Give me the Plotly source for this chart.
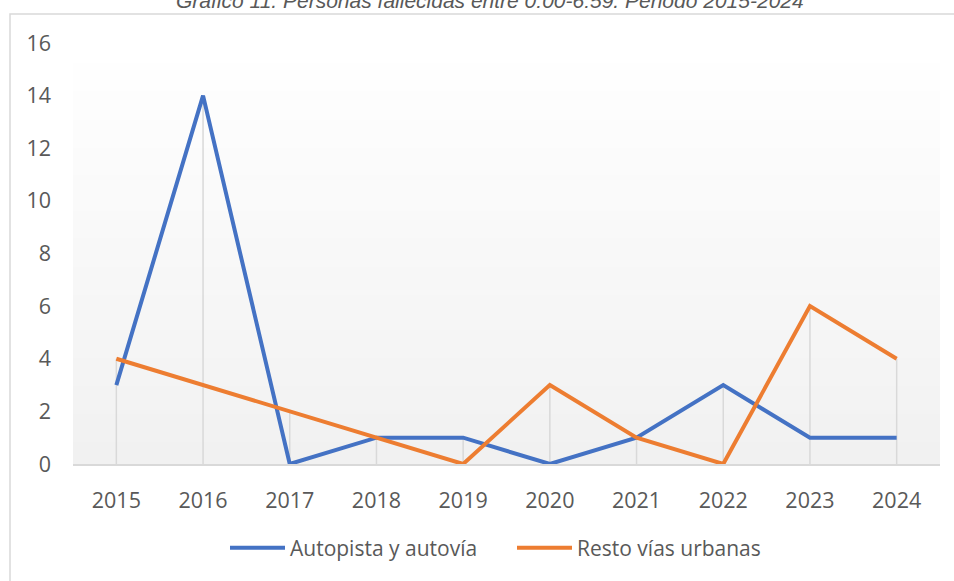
import plotly.graph_objects as go

years = ["2015", "2016", "2017", "2018", "2019", "2020", "2021", "2022", "2023", "2024"]
autopista = [3, 14, 0, 1, 1, 0, 1, 3, 1, 1]
resto = [4, 3, 2, 1, 0, 3, 1, 0, 6, 4]
y_ticks = [0, 2, 4, 6, 8, 10, 12, 14, 16]

L, R, T, B = 73, 940, 43, 464
PW, PH = R - L, B - T

def px(x):
    return (x - L) / PW

def py(y):
    return (B - y) / PH

fig = go.Figure()

# drop lines
dx, dy = [], []
for i, yr in enumerate(years):
    dx += [yr, yr, None]
    dy += [0, max(autopista[i], resto[i]), None]
fig.add_trace(go.Scatter(x=dx, y=dy, mode="lines", line=dict(color="#d9d9d9", width=1.5),
                         showlegend=False, hoverinfo="skip"))

fig.add_trace(go.Scatter(x=years, y=autopista, mode="lines", name="Autopista y autovía",
                         line=dict(color="#4472C4", width=4)))
fig.add_trace(go.Scatter(x=years, y=resto, mode="lines", name="Resto vías urbanas",
                         line=dict(color="#ED7D31", width=4)))

# gradient background
shapes = []
n = 60
for k in range(n):
    t = k / (n - 1)
    c = int(round(255 - (255 - 241) * t))
    shapes.append(dict(type="rect", xref="paper", yref="paper", x0=0, x1=1,
                       y0=1 - (k + 1) / n, y1=1 - k / n + 0.002,
                       fillcolor=f"rgb({c},{c},{c})", line=dict(width=0), layer="below"))
# outer border
shapes.append(dict(type="rect", xref="paper", yref="paper",
                   x0=px(10), x1=px(1000), y0=py(650), y1=py(14),
                   line=dict(color="#d9d9d9", width=1.5), fillcolor="rgba(0,0,0,0)", layer="below"))
fig.update_layout(shapes=shapes)

fig.add_annotation(text="<i>Gráfico 11. Personas fallecidas entre 0:00-6:59. Periodo 2015-2024</i>",
                   xref="paper", yref="paper", x=px(490), y=py(1),
                   showarrow=False, xanchor="center", yanchor="middle",
                   font=dict(family="Liberation Sans, Arial", size=21, color="#595959"))

fig.update_layout(
    width=954, height=581,
    margin=dict(l=L, r=954 - R, t=T, b=581 - B, autoexpand=False),
    paper_bgcolor="white", plot_bgcolor="rgba(0,0,0,0)",
    font=dict(family="Open Sans, Noto Sans, sans-serif", size=21, color="#595959"),
    showlegend=True,
    legend=dict(orientation="h", x=px(512), xanchor="center", y=py(548), yanchor="middle",
                font=dict(size=21, color="#595959"), bgcolor="rgba(0,0,0,0)",
                itemwidth=55, entrywidth=217),
    xaxis=dict(type="category", range=[-0.5, 9.5], showgrid=False, showline=True,
               linecolor="#d9d9d9", linewidth=1.5, ticks="", ticklabelstandoff=16,
               zeroline=False, fixedrange=True, tickfont=dict(size=21.5)),
    yaxis=dict(range=[0, 16], tickvals=y_ticks, showgrid=False, showline=False,
               zeroline=False, ticks="", ticklabelstandoff=21, fixedrange=True,
               tickfont=dict(size=21.5)),
)

fig.write_html("out.html", post_script="document.body.style.margin='0';",
               config={"displayModeBar": False})
